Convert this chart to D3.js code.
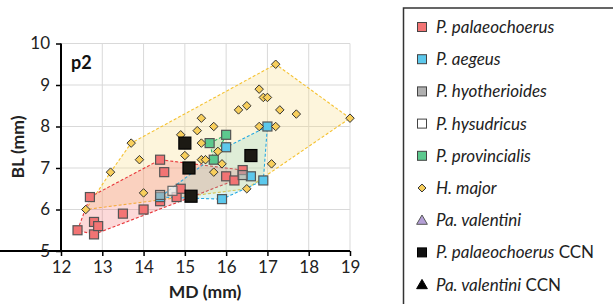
<!DOCTYPE html>
<html><head><meta charset="utf-8">
<script src="https://cdn.jsdelivr.net/npm/d3@7"></script>
<style>body{margin:0;background:#fff}svg{display:block}text{font-family:Lato,"Open Sans",sans-serif}</style>
</head><body>
<svg id="c" width="613" height="304"></svg>
<script>
const xTicks=[12,13,14,15,16,17,18,19];
const yTicks=[5,6,7,8,9,10];
const palaeochoerus=[[12.4,5.5],[12.8,5.4],[12.8,5.7],[12.9,5.6],[12.7,6.3],[13.5,5.9],[14.0,6.0],[14.4,7.2],[14.5,6.9],[14.4,6.2],[14.8,6.3],[14.9,6.5],[16.0,6.8],[16.2,6.7],[16.4,6.95]];
const aegeus=[[14.4,6.3],[16.0,7.5],[17.0,8.0],[16.6,6.8],[16.9,6.7],[15.9,6.25]];
const hyotherioides=[[14.4,6.35],[16.4,6.83]];
const hysudricus=[[14.7,6.45]];
const provincialis=[[15.6,7.6],[16.0,7.8],[15.7,7.2]];
const hmajor=[[12.6,6.0],[13.2,6.9],[13.7,7.6],[13.9,7.2],[14.0,6.4],[14.9,7.8],[15.0,7.3],[15.3,7.9],[15.4,8.2],[15.7,8.0],[15.4,7.6],[15.8,7.4],[15.4,7.2],[15.5,7.2],[15.9,7.1],[15.7,6.9],[16.3,8.4],[16.5,8.5],[16.8,8.9],[16.9,8.7],[17.0,8.7],[17.3,8.4],[17.7,8.3],[17.2,9.5],[19.0,8.2],[16.8,8.0],[17.2,8.0],[17.1,7.1],[16.5,6.5]];
const paValentini=[];
const palaeoCCN=[[15.0,7.6],[15.1,7.0],[16.6,7.3],[15.15,6.32]];
const paValentiniCCN=[];
const legendLabels=[["P. palaeochoerus",""],["P. aegeus",""],["P. hyotherioides",""],["P. hysudricus",""],["P. provincialis",""],["H. major",""],["Pa. valentini",""],["P. palaeochoerus"," CCN"],["Pa. valentini"," CCN"]];

const svg=d3.select("#c");
const x=d3.scaleLinear().domain([12,19]).range([61,350]);
const y=d3.scaleLinear().domain([5,10]).range([251,43.5]);

// grid
svg.append("g").selectAll("line").data(xTicks).join("line")
 .attr("x1",d=>x(d)).attr("x2",d=>x(d)).attr("y1",y(5)).attr("y2",y(10)).attr("stroke","#d9d9d9");
svg.append("g").selectAll("line").data(yTicks).join("line")
 .attr("y1",d=>y(d)).attr("y2",d=>y(d)).attr("x1",x(12)).attr("x2",x(19)).attr("stroke","#d9d9d9");

// hulls
const hulls=[
 {data:hmajor,fill:"rgba(250,222,140,0.3)",stroke:"#f5c232"},
 {data:palaeochoerus,fill:"rgba(245,105,105,0.25)",stroke:"#e8363a"},
 {data:aegeus,fill:"rgba(120,210,200,0.22)",stroke:"#25a9e2"},
 {data:provincialis,fill:"rgba(90,200,130,0.25)",stroke:"#2db567"}
];
hulls.forEach(h=>{
 const pts=d3.polygonHull(h.data.map(d=>[x(d[0]),y(d[1])]));
 svg.append("path").attr("d","M"+pts.join("L")+"Z").attr("fill",h.fill)
  .attr("stroke",h.stroke).attr("stroke-width",1.1).attr("stroke-dasharray","3,2");
});

// markers
function squares(data,fill,size,stroke,op){
 svg.append("g").selectAll("rect").data(data).join("rect")
  .attr("x",d=>x(d[0])-size/2).attr("y",d=>y(d[1])-size/2).attr("width",size).attr("height",size)
  .attr("fill",fill).attr("fill-opacity",op||1).attr("stroke",stroke).attr("stroke-width",1.2);
}
squares(palaeochoerus,"#f27474",9,"#555");
squares(aegeus,"#5cc8ec",9,"#555");
squares(hyotherioides,"#a8a8a8",9,"#555",0.6);
squares(hysudricus,"#f4f4f4",9,"#666",0.7);
squares(provincialis,"#5cc98e",9,"#555");
svg.append("g").selectAll("path").data(hmajor).join("path")
 .attr("d",d3.symbol(d3.symbolDiamond2,46)).attr("transform",d=>`translate(${x(d[0])},${y(d[1])})`)
 .attr("fill","#f8cf5c").attr("stroke","#333").attr("stroke-width",1);
svg.append("g").selectAll("path").data(paValentini).join("path")
 .attr("d",d3.symbol(d3.symbolTriangle,50)).attr("transform",d=>`translate(${x(d[0])},${y(d[1])})`)
 .attr("fill","#b49fd6").attr("stroke","#555");
squares(palaeoCCN,"#1c1a14",12,"#000");
svg.append("g").selectAll("path").data(paValentiniCCN).join("path")
 .attr("d",d3.symbol(d3.symbolTriangle,60)).attr("transform",d=>`translate(${x(d[0])},${y(d[1])})`)
 .attr("fill","#000");

// axes
const xa=svg.append("g").attr("transform",`translate(0,${y(5)})`)
 .call(d3.axisBottom(x).tickValues(xTicks).tickFormat(d3.format("d")).tickSize(5).tickPadding(5));
const ya=svg.append("g").attr("transform",`translate(${x(12)},0)`)
 .call(d3.axisLeft(y).tickValues(yTicks).tickFormat(d3.format("d")).tickSize(5).tickPadding(6));
[xa,ya].forEach(a=>{
 a.select(".domain").attr("stroke","#000").attr("stroke-width",2);
 a.selectAll(".tick line").attr("stroke","#000").attr("stroke-width",1.5);
 a.selectAll(".tick text").attr("font-size",17).attr("fill","#222").style("font-family","Lato,'Open Sans',sans-serif");
});
ya.select(".domain").attr("d",`M0,${y(10)}V${y(5)}`);
xa.select(".domain").attr("d",`M0,0H${x(19)}`);

svg.append("text").attr("x",205).attr("y",298).attr("text-anchor","middle").attr("font-size",17.5).attr("font-weight","bold").attr("fill","#222").text("MD (mm)");
svg.append("text").attr("transform","translate(24,147) rotate(-90)").attr("text-anchor","middle").attr("font-size",17.5).attr("font-weight","bold").attr("fill","#222").text("BL (mm)");
svg.append("text").attr("x",71).attr("y",69).attr("font-size",18).attr("font-weight","bold").attr("fill","#111").text("p2");

// legend
svg.append("rect").attr("x",403.5).attr("y",8).attr("width",230).attr("height",310).attr("fill","#fff").attr("stroke","#333").attr("stroke-width",1.5);
const legMarks=[
 {t:"sq",f:"#f27474"},{t:"sq",f:"#5cc8ec"},{t:"sq",f:"#b0b0b0"},{t:"sq",f:"#fff"},{t:"sq",f:"#5cc98e"},
 {t:"di",f:"#f8cf5c"},{t:"tr",f:"#b49fd6"},{t:"sq",f:"#111",s:"#000"},{t:"tr",f:"#000"}];
const lg=svg.append("g").selectAll("g").data(legendLabels).join("g")
 .attr("transform",(d,i)=>`translate(422,${27+i*32.2})`);
lg.each(function(d,i){
 const g=d3.select(this),m=legMarks[i];
 if(m.t==="sq") g.append("rect").attr("x",-4.5).attr("y",-4.5).attr("width",9).attr("height",9).attr("fill",m.f).attr("stroke",m.s||"#444").attr("stroke-width",1);
 else if(m.t==="di") g.append("path").attr("d",d3.symbol(d3.symbolDiamond2,40)).attr("fill",m.f).attr("stroke","#333");
 else g.append("path").attr("d",d3.symbol(d3.symbolTriangle,50)).attr("transform","translate(0,1)").attr("fill",m.f).attr("stroke",m.f==="#000"?"#000":"#555");
 const t=g.append("text").attr("x",14).attr("y",6).attr("font-size",17).attr("fill","#222");
 t.append("tspan").attr("font-style","italic").text(d[0]);
 if(d[1]) t.append("tspan").text(d[1]);
});
</script>
</body></html>
